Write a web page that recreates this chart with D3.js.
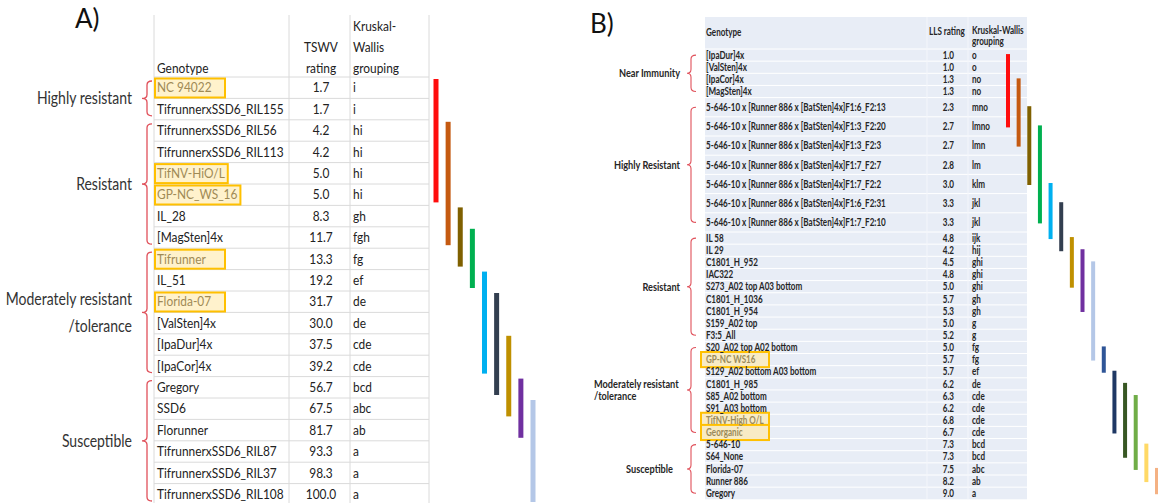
<!DOCTYPE html>
<html><head><meta charset="utf-8">
<script src="https://cdn.jsdelivr.net/npm/d3@7"></script>
<style>html,body{margin:0;padding:0;background:#fff;} svg{display:block;font-family:Lato,'Open Sans',sans-serif;}</style>
</head><body>
<svg id="c" width="1158" height="503"></svg>
<script>
// ---------- Panel A data ----------
const genotypesA = ["NC 94022","TifrunnerxSSD6_RIL155","TifrunnerxSSD6_RIL56","TifrunnerxSSD6_RIL113","TifNV-HiO/L","GP-NC_WS_16","IL_28","[MagSten]4x","Tifrunner","IL_51","Florida-07","[ValSten]4x","[IpaDur]4x","[IpaCor]4x","Gregory","SSD6","Florunner","TifrunnerxSSD6_RIL87","TifrunnerxSSD6_RIL37","TifrunnerxSSD6_RIL108"];
const ratingsA = [1.7,1.7,4.2,4.2,5.0,5.0,8.3,11.7,13.3,19.2,31.7,30.0,37.5,39.2,56.7,67.5,81.7,93.3,98.3,100.0];
const groupsA = ["i","i","hi","hi","hi","hi","gh","fgh","fg","ef","de","de","cde","cde","bcd","abc","ab","a","a","a"];
const highlightA = ["NC 94022","TifNV-HiO/L","GP-NC_WS_16","Tifrunner","Florida-07"];
const classLabelsA = [["Highly resistant"],["Resistant"],["Moderately resistant","/tolerance"],["Susceptible"]];
const classCountsA = [2,6,6,6];
const lettersA = ["i","h","g","f","e","d","c","b","a"];
const headersA = {genotype:"Genotype", rating:["TSWV","rating"], group:["Kruskal-","Wallis","grouping"]};

// ---------- Panel B data ----------
const genotypesB = ["[IpaDur]4x","[ValSten]4x","[IpaCor]4x","[MagSten]4x",
"5-646-10 x [Runner 886 x [BatSten]4x]F1:6_F2:13","5-646-10 x [Runner 886 x [BatSten]4x]F1:3_F2:20","5-646-10 x [Runner 886 x [BatSten]4x]F1:3_F2:3","5-646-10 x [Runner 886 x [BatSten]4x]F1:7_F2:7","5-646-10 x [Runner 886 x [BatSten]4x]F1:7_F2:2","5-646-10 x [Runner 886 x [BatSten]4x]F1:6_F2:31","5-646-10 x [Runner 886 x [BatSten]4x]F1:7_F2:10",
"IL 58","IL 29","C1801_H_952","IAC322","S273_A02  top A03 bottom","C1801_H_1036","C1801_H_954","S159_A02  top","F3:5_All",
"S20_A02 top  A02 bottom","GP-NC WS16","S129_A02  bottom A03 bottom","C1801_H_985","S85_A02  bottom","S91_A03  bottom","TifNV-High O/L","Georganic",
"5-646-10","S64_None","Florida-07","Runner 886","Gregory"];
const ratingsB = [1.0,1.0,1.3,1.3,2.3,2.7,2.7,2.8,3.0,3.3,3.3,4.8,4.2,4.5,4.8,5.0,5.7,5.3,5.0,5.2,5.0,5.7,5.7,6.2,6.3,6.2,6.8,6.7,7.3,7.3,7.5,8.2,9.0];
const groupsB = ["o","o","no","no","mno","lmno","lmn","lm","klm","jkl","jkl","ijk","hij","ghi","ghi","ghi","gh","gh","g","g","fg","fg","ef","de","cde","cde","cde","cde","bcd","bcd","abc","ab","a"];
const highlightB = ["GP-NC WS16","TifNV-High O/L","Georganic"];
const classLabelsB = [["Near Immunity"],["Highly Resistant"],["Resistant"],["Moderately resistant","/tolerance"],["Susceptible"]];
const classCountsB = [4,7,9,8,5];
const lettersB = ["o","n","m","l","k","j","i","h","g","f","e","d","c","b","a"];
const headersB = {genotype:"Genotype", rating:"LLS rating", group:["Kruskal-Wallis","grouping"]};

// ---------- styles ----------
const barColorsA = ["#ff0d0d","#c55a11","#7f6000","#00b050","#00b0f0","#333f50","#bf9000","#7030a0","#b4c7e7"];
const barColorsB = ["#ff0d0d","#c55a11","#7f6000","#00b050","#00b0f0","#333f50","#bf9000","#7030a0","#b4c7e7","#2f5597","#1f3864","#385723","#70ad47","#ffd966","#f4b183"];
const bracketColor = "#e0505a";

const svg = d3.select("#c");
function T(g, x, y, s, o={}) {
  const size=o.size||14, sx=o.sx||0.85;
  return g.append("text").attr("transform",`translate(${x},${y}) scale(${sx},1)`)
    .attr("text-anchor",o.anchor||"start").attr("font-size",size)
    .attr("font-weight",o.weight||400).attr("fill",o.fill||"#222").text(s);
}
function bracket(g, x, top, bot, mid, hook, tip, w) {
  const r = Math.min(4,(bot-top)/4);
  const p = d3.path();
  p.moveTo(x+hook, top); p.quadraticCurveTo(x, top, x, top+r);
  p.lineTo(x, mid-r); p.quadraticCurveTo(x, mid, x-tip, mid);
  p.quadraticCurveTo(x, mid, x, mid+r);
  p.lineTo(x, bot-r); p.quadraticCurveTo(x, bot, x+hook, bot);
  g.append("path").attr("d",p.toString()).attr("fill","none").attr("stroke",bracketColor).attr("stroke-width",w);
}
function spans(groups, letters) {
  return letters.map(l => {
    const idx = groups.map((g,i)=>g.includes(l)?i:-1).filter(i=>i>=0);
    return {l, first:d3.min(idx), last:d3.max(idx)};
  });
}

// ================= PANEL A =================
(function(){
  const gA = svg.append("g");
  const lines = gA.append("g"), hi = gA.append("g"), tx = gA.append("g"), br = gA.append("g"), bars = gA.append("g");
  const y = d3.scaleBand().domain(d3.range(genotypesA.length)).range([77, 77+genotypesA.length*21.4]);
  const colX = [154, 289, 350, 429];
  colX.forEach(x => lines.append("line").attr("x1",x).attr("x2",x).attr("y1",15).attr("y2",503).attr("stroke","#dadada"));
  d3.range(genotypesA.length+1).forEach(i => {
    const yy = 77 + i*y.bandwidth();
    lines.append("line").attr("x1",154).attr("x2",429).attr("y1",yy).attr("y2",yy).attr("stroke","#dadada");
  });
  T(tx, 75, 28, "A)", {size:26, sx:1, fill:"#111"});
  T(tx, 157, 73, headersA.genotype);
  headersA.rating.forEach((s,i)=>T(tx, 321, 52+i*21, s, {anchor:"middle"}));
  headersA.group.forEach((s,i)=>T(tx, 353, 31+i*21, s));
  const base = 15.3;
  genotypesA.forEach((g,i) => {
    const isHi = highlightA.includes(g);
    const t = T(tx, 157, y(i)+base, g, {fill: isHi ? "#a08a55" : "#222"});
    if (isHi) {
      const len = t.node().getComputedTextLength()*0.85;
      hi.append("rect").attr("x",155).attr("y",y(i)+1.5).attr("width",Math.max(70,len+5)).attr("height",19)
        .attr("fill","#fff2cc").attr("stroke","#ffc000").attr("stroke-width",2);
    }
    T(tx, 321, y(i)+base, d3.format(".1f")(ratingsA[i]), {anchor:"middle"});
    T(tx, 353, y(i)+base, groupsA[i]);
  });
  let start = 0;
  classLabelsA.forEach((lab,k) => {
    const end = start + classCountsA[k] - 1;
    const top = y(start)+4, bot = y(end)+y.bandwidth()-4, mid = (top+bot)/2;
    bracket(br, 147, top, bot, mid, 5, 5, 1.3);
    const n = lab.length;
    lab.forEach((s,j) => T(tx, 132, mid + 6 + (j-(n-1)/2)*27, s, {size:17.5, sx:0.8, anchor:"end", fill:"#333"}));
    start = end+1;
  });
  const x = d3.scalePoint().domain(lettersA).range([436, 533]);
  bars.selectAll("rect").data(spans(groupsA, lettersA)).join("rect")
    .attr("x", d => x(d.l)-2.5).attr("width",5)
    .attr("y", d => y(d.first)+2).attr("height", d => y(d.last)+y.bandwidth()-3-(y(d.first)+2))
    .attr("fill", (d,i) => barColorsA[i]);
})();

// ================= PANEL B =================
(function(){
  const gB = svg.append("g");
  const bg = gB.append("g"), hi = gB.append("g"), tx = gB.append("g"), br = gB.append("g"), bars = gB.append("g");
  const heights = genotypesB.map(g => g.includes(" x [") ? 19.2 : 12.15);
  const tops = []; let acc = 49;
  heights.forEach(h => { tops.push(acc); acc += h; });
  const bottom = acc;
  const y = d3.scaleOrdinal().domain(d3.range(genotypesB.length)).range(tops);
  const yc = i => y(i) + heights[i]/2;
  bg.append("rect").attr("x",705).attr("y",17).attr("width",322).attr("height",bottom-17).attr("fill","#e8edf6");
  [49, ...tops.slice(1)].forEach(yy => bg.append("line").attr("x1",705).attr("x2",1027).attr("y1",yy).attr("y2",yy).attr("stroke","#fff").attr("stroke-width",1));
  [927, 968].forEach(xx => bg.append("line").attr("x1",xx).attr("x2",xx).attr("y1",17).attr("y2",bottom).attr("stroke","#f4f6fb").attr("stroke-width",1));
  T(tx, 590, 33, "B)", {size:26, sx:1, fill:"#111"});
  const fb = {size:10.5, sx:0.77, weight:700, fill:"#262626"};
  T(tx, 706, 36, headersB.genotype, fb);
  T(tx, 929, 35, headersB.rating, fb);
  headersB.group.forEach((s,i)=>T(tx, 972, 34+i*11, s, fb));
  genotypesB.forEach((g,i) => {
    const isHi = highlightB.includes(g);
    const t = T(tx, 706, yc(i)+3.7, g, Object.assign({}, fb, isHi ? {fill:"#9a8a5a"} : {}));
    if (isHi) {
      const len = t.node().getComputedTextLength()*0.77;
      hi.append("rect").attr("x",701).attr("y",y(i)-1.5).attr("width",Math.max(68,len+10)).attr("height",heights[i]+3)
        .attr("fill","#f8ebc4").attr("stroke","#ffc000").attr("stroke-width",2);
    }
    T(tx, 954, yc(i)+3.7, d3.format(".1f")(ratingsB[i]), Object.assign({}, fb, {anchor:"end"}));
    T(tx, 972, yc(i)+3.7, groupsB[i], fb);
  });
  let start = 0;
  const fl = {size:11.5, sx:0.8, weight:700, fill:"#262626"};
  classLabelsB.forEach((lab,k) => {
    const end = start + classCountsB[k] - 1;
    const top = yc(start), bot = yc(end), mid = (top+bot)/2;
    bracket(br, 691, top, bot, mid, 5, 4, 1.1);
    const n = lab.length;
    const multi = n > 1;
    lab.forEach((s,j) => T(tx, multi ? 594 : (k===4 ? 673 : 680), mid + 4 + (j-(n-1)/2)*12.5, s,
      Object.assign({}, fl, {anchor: multi ? "start" : "end"})));
    start = end+1;
  });
  const x = d3.scalePoint().domain(lettersB).range([1008, 1157]);
  bars.selectAll("rect").data(spans(groupsB, lettersB)).join("rect")
    .attr("x", d => x(d.l)-2).attr("width",4)
    .attr("y", d => yc(d.first)-1).attr("height", d => yc(d.last)-yc(d.first)+2)
    .attr("fill", (d,i) => barColorsB[i]);
})();
</script>
</body></html>
